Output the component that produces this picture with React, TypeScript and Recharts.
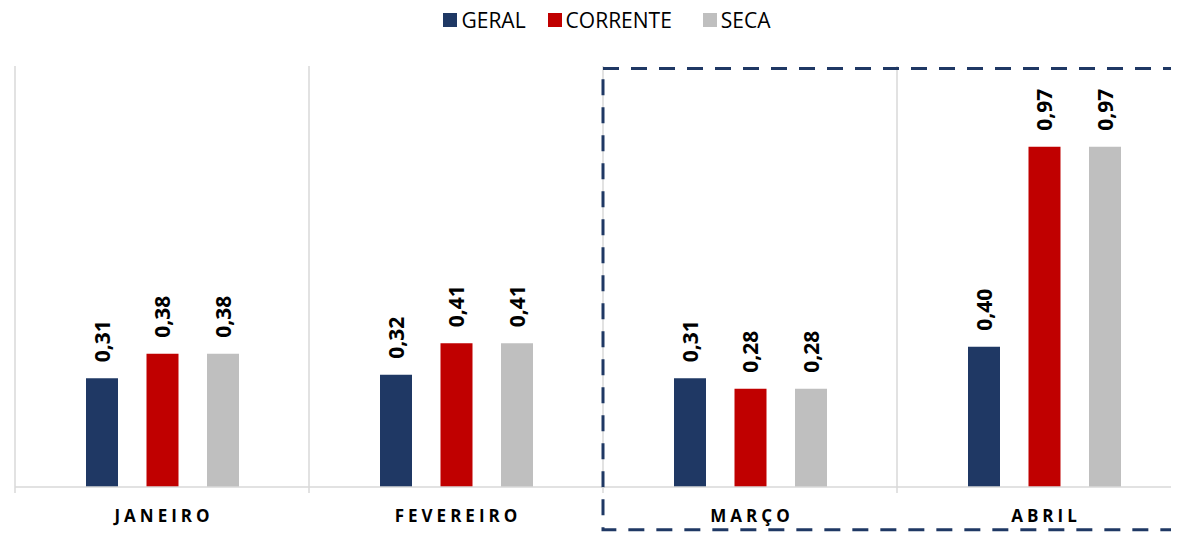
import React from 'react';
import { BarChart, Bar, XAxis, YAxis, Legend, ReferenceLine, ReferenceArea, LabelList } from 'recharts';

const categories = ['JANEIRO', 'FEVEREIRO', 'MARÇO', 'ABRIL'];
const geral = [0.31, 0.32, 0.31, 0.4];
const corrente = [0.38, 0.41, 0.28, 0.97];
const seca = [0.38, 0.41, 0.28, 0.97];
const seriesNames = ['GERAL', 'CORRENTE', 'SECA'];
const seriesKeys = ['geral', 'corrente', 'seca'];
const colors = ['#1F3864', '#C00000', '#BFBFBF'];
const highlightFrom = 'MARÇO';
const highlightTo = 'ABRIL';

const data = categories.map((name, i) => ({ name, geral: geral[i], corrente: corrente[i], seca: seca[i] }));

const fmt = (v: number) => v.toFixed(2).replace('.', ',');
const GRID = '#d9d9d9';

const renderLabel = (props: any) => {
  const { x, y, width, value } = props;
  const cx = Number(x) + Number(width) / 2;
  const ty = Number(y) - 16;
  return (
    <text
      x={cx}
      y={ty}
      transform={`rotate(-90 ${cx} ${ty})`}
      textAnchor="start"
      dominantBaseline="central"
      fontFamily="'Open Sans', sans-serif"
      fontWeight={700}
      fontSize={21}
      fill="#000"
    >
      {fmt(Number(value))}
    </text>
  );
};

const renderTick = (props: any) => {
  const { x, y, payload, width, visibleTicksCount, index } = props;
  const half = Number(width) / Number(visibleTicksCount) / 2;
  return (
    <g>
      <line x1={x - half} x2={x - half} y1={y} y2={y + 6} stroke={GRID} strokeWidth={1.5} />
      {index === visibleTicksCount - 1 && (
        <line x1={x + half} x2={x + half} y1={y} y2={y + 6} stroke={GRID} strokeWidth={1.5} />
      )}
      <text
        x={x + 2}
        y={y + 35}
        textAnchor="middle"
        fontFamily="'Open Sans', sans-serif"
        fontWeight={700}
        fontSize={17}
        letterSpacing={4}
        fill="#000"
      >
        {payload.value}
      </text>
    </g>
  );
};

const gaps = [22, 31, 0];

const renderLegend = () => (
  <div
    style={{
      display: 'flex',
      justifyContent: 'center',
      alignItems: 'center',
      height: 40,
      paddingLeft: 8,
      fontFamily: "'Open Sans', sans-serif",
      fontSize: 21,
      color: '#000',
    }}
  >
    {seriesNames.map((n, i) => (
      <div key={n} style={{ display: 'flex', alignItems: 'center', marginRight: gaps[i] }}>
        <span style={{ width: 14, height: 14, background: colors[i], marginRight: 4, display: 'inline-block' }} />
        <span>{n}</span>
      </div>
    ))}
  </div>
);

export default function App() {
  return (
    <div style={{ width: 1179, height: 540, overflow: 'hidden', margin: -8 }}>
      <BarChart
        width={1198}
        height={540}
        data={data}
        margin={{ top: 26, right: 7, bottom: 0, left: 15 }}
        barGap={28.5}
        barSize={32}
      >
        <Legend verticalAlign="top" content={renderLegend} wrapperStyle={{ top: 0 }} />
        <YAxis hide domain={[0, 1.2]} allowDataOverflow />
        <XAxis
          dataKey="name"
          axisLine={{ stroke: GRID, strokeWidth: 1.5 }}
          tickLine={false}
          tickSize={0}
          tickMargin={0}
          height={53}
          interval={0}
          tick={renderTick}
        />
        {categories.map((c) => (
          <ReferenceLine key={c} x={c} position="start" stroke={GRID} strokeWidth={1.5} />
        ))}
        <ReferenceLine x={categories[categories.length - 1]} position="end" stroke={GRID} strokeWidth={1.5} />
        {seriesKeys.map((k, i) => (
          <Bar key={k} dataKey={k} name={seriesNames[i]} fill={colors[i]} isAnimationActive={false}>
            <LabelList dataKey={k} content={renderLabel} />
          </Bar>
        ))}
        <ReferenceArea
          x1={highlightFrom}
          x2={highlightTo}
          y1={-0.122}
          y2={1.193}
          ifOverflow="visible"
          zIndex={1000}
          fill="none"
          fillOpacity={0}
          stroke="#1F3864"
          strokeOpacity={1}
          strokeWidth={3}
          strokeDasharray="16 12"
        />
      </BarChart>
    </div>
  );
}
